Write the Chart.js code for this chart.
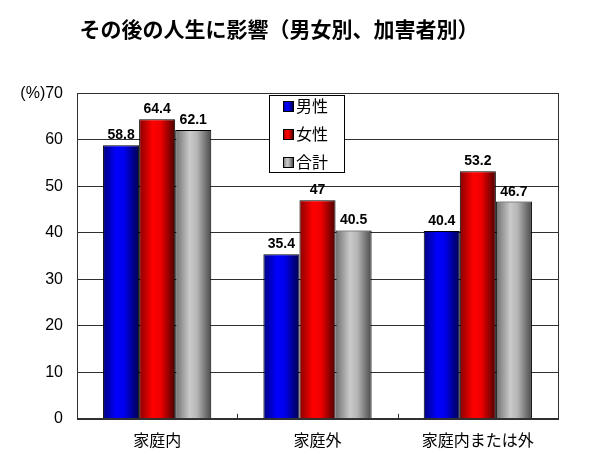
<!DOCTYPE html>
<html>
<head>
<meta charset="utf-8">
<script src="https://cdn.jsdelivr.net/npm/chart.js@4.4.0/dist/chart.umd.min.js"></script>
<style>
  body { margin: 0; background: #fff; }
  #wrap { width: 599px; height: 462px; position: relative; }
</style>
</head>
<body>
<div id="wrap"><canvas id="grafVlivu"></canvas></div>
<script>
// data
const kategorie = ["家庭内", "家庭外", "家庭内または外"];
const nazvyRad = ["男性", "女性", "合計"];
const muzi = [58.8, 35.4, 40.4];
const zeny = [64.4, 47, 53.2];
const celkem = [62.1, 40.5, 46.7];
const yTicky = [0, 10, 20, 30, 40, 50, 60, 70];

// cylinder-like shading, left to right
const prechody = [
    [[0, "#000080"], [0.38, "#0000ff"], [0.6, "#0000ea"], [1, "#00004a"]],
    [[0, "#880000"], [0.38, "#ff0000"], [0.6, "#ee0000"], [1, "#4a0000"]],
    [[0, "#6e6e6e"], [0.4, "#cacaca"], [0.6, "#b6b6b6"], [1, "#4a4a4a"]]
];
const zakladni = ["#0000ff", "#ff0000", "#b0b0b0"];

function udelejPrechod(ctx, x0, x1, stops) {
    const g = ctx.createLinearGradient(x0, 0, x1, 0);
    stops.forEach(function(s) { g.addColorStop(s[0], s[1]); });
    return g;
}

const podilKategorie = 0.675;

function barvaSloupce(c) {
    const chart = c.chart;
    const osaX = chart.scales.x;
    if (!chart.chartArea || !osaX || c.dataIndex === undefined) return zakladni[c.datasetIndex];
    const sirkaKat = osaX.width / kategorie.length;
    const sirka = sirkaKat * podilKategorie / nazvyRad.length;
    const stred = osaX.getPixelForValue(c.dataIndex) + (c.datasetIndex - 1) * sirka;
    return udelejPrechod(chart.ctx, stred - sirka / 2, stred + sirka / 2, prechody[c.datasetIndex]);
}

const doplnky = {
    id: "doplnky",
    afterDatasetsDraw: function(chart) {
        const ctx = chart.ctx;
        const ca = chart.chartArea;
        const osaX = chart.scales.x;
        ctx.save();

        // frame round the plot
        ctx.strokeStyle = "#303030";
        ctx.lineWidth = 1;
        ctx.strokeRect(Math.round(ca.left) + 0.5, Math.round(ca.top) + 0.5,
            Math.round(ca.right - ca.left), Math.round(ca.bottom - ca.top));

        // small inner ticks between categories
        ctx.beginPath();
        for (let i = 0; i < kategorie.length - 1; i++) {
            const x = Math.round((osaX.getPixelForValue(i) + osaX.getPixelForValue(i + 1)) / 2) + 0.5;
            ctx.moveTo(x, ca.bottom);
            ctx.lineTo(x, ca.bottom - 5);
        }
        ctx.stroke();

        // value labels
        ctx.fillStyle = "#000";
        ctx.font = "bold 14px 'Liberation Sans', Arial, sans-serif";
        ctx.textAlign = "center";
        ctx.textBaseline = "alphabetic";
        chart.data.datasets.forEach(function(ds, di) {
            chart.getDatasetMeta(di).data.forEach(function(el, i) {
                ctx.fillText(String(ds.data[i]), el.x, el.y - 6);
            });
        });

        // legend box inside the plot
        const lx = ca.left + 192, ly = ca.top + 2, lw = 75, lh = 77;
        ctx.fillStyle = "#fff";
        ctx.fillRect(lx, ly, lw, lh);
        ctx.strokeStyle = "#000";
        ctx.strokeRect(Math.round(lx) + 0.5, Math.round(ly) + 0.5, lw, lh);
        ctx.font = "16px 'Noto Sans CJK JP', sans-serif";
        ctx.textAlign = "left";
        ctx.textBaseline = "middle";
        nazvyRad.forEach(function(nazev, i) {
            const cy = ly + 11 + i * 28;
            const sx = Math.round(lx) + 14;
            ctx.fillStyle = udelejPrechod(ctx, sx, sx + 10, prechody[i]);
            ctx.fillRect(sx, Math.round(cy) - 5, 10, 10);
            ctx.strokeStyle = "#000";
            ctx.strokeRect(sx + 0.5, Math.round(cy) - 4.5, 10, 10);
            ctx.fillStyle = "#000";
            ctx.fillText(nazev, sx + 13, cy);
        });
        ctx.restore();
    }
};

new Chart(document.getElementById("grafVlivu"), {
    type: "bar",
    data: {
        labels: kategorie,
        datasets: [
            { label: nazvyRad[0], data: muzi },
            { label: nazvyRad[1], data: zeny },
            { label: nazvyRad[2], data: celkem }
        ].map(function(ds) {
            ds.backgroundColor = barvaSloupce;
            ds.borderColor = "#000";
            ds.borderWidth = 1;
            ds.categoryPercentage = podilKategorie;
            ds.barPercentage = 1.0;
            return ds;
        })
    },
    options: {
        responsive: true,
        maintainAspectRatio: false,
        animation: false,
        layout: { padding: { top: 0, left: 0, right: 41, bottom: 0 } },
        plugins: {
            legend: { display: false },
            tooltip: { enabled: false },
            title: {
                display: true,
                text: "その後の人生に影響（男女別、加害者別）",
                color: "#000",
                font: { family: "'Noto Sans CJK JP', sans-serif", size: 21, weight: "bold" },
                padding: { top: 16, bottom: 52 }
            }
        },
        scales: {
            x: {
                grid: { display: false, drawTicks: false },
                border: { display: true, color: "#303030" },
                ticks: {
                    color: "#000",
                    padding: 12,
                    font: { family: "'Noto Sans CJK JP', sans-serif", size: 16 }
                }
            },
            y: {
                min: 0,
                max: 70,
                afterFit: function(s) { s.width = 77; },
                afterBuildTicks: function(s) { s.ticks = yTicky.map(function(v) { return { value: v }; }); },
                grid: { color: "#303030", drawTicks: false },
                border: { display: true, color: "#303030" },
                ticks: {
                    color: "#000",
                    padding: 14,
                    font: { family: "'Liberation Sans', Arial, sans-serif", size: 16 },
                    callback: function(v) { return v === 70 ? "(%)" + v : String(v); }
                }
            }
        }
    },
    plugins: [doplnky]
});
</script>
</body>
</html>
